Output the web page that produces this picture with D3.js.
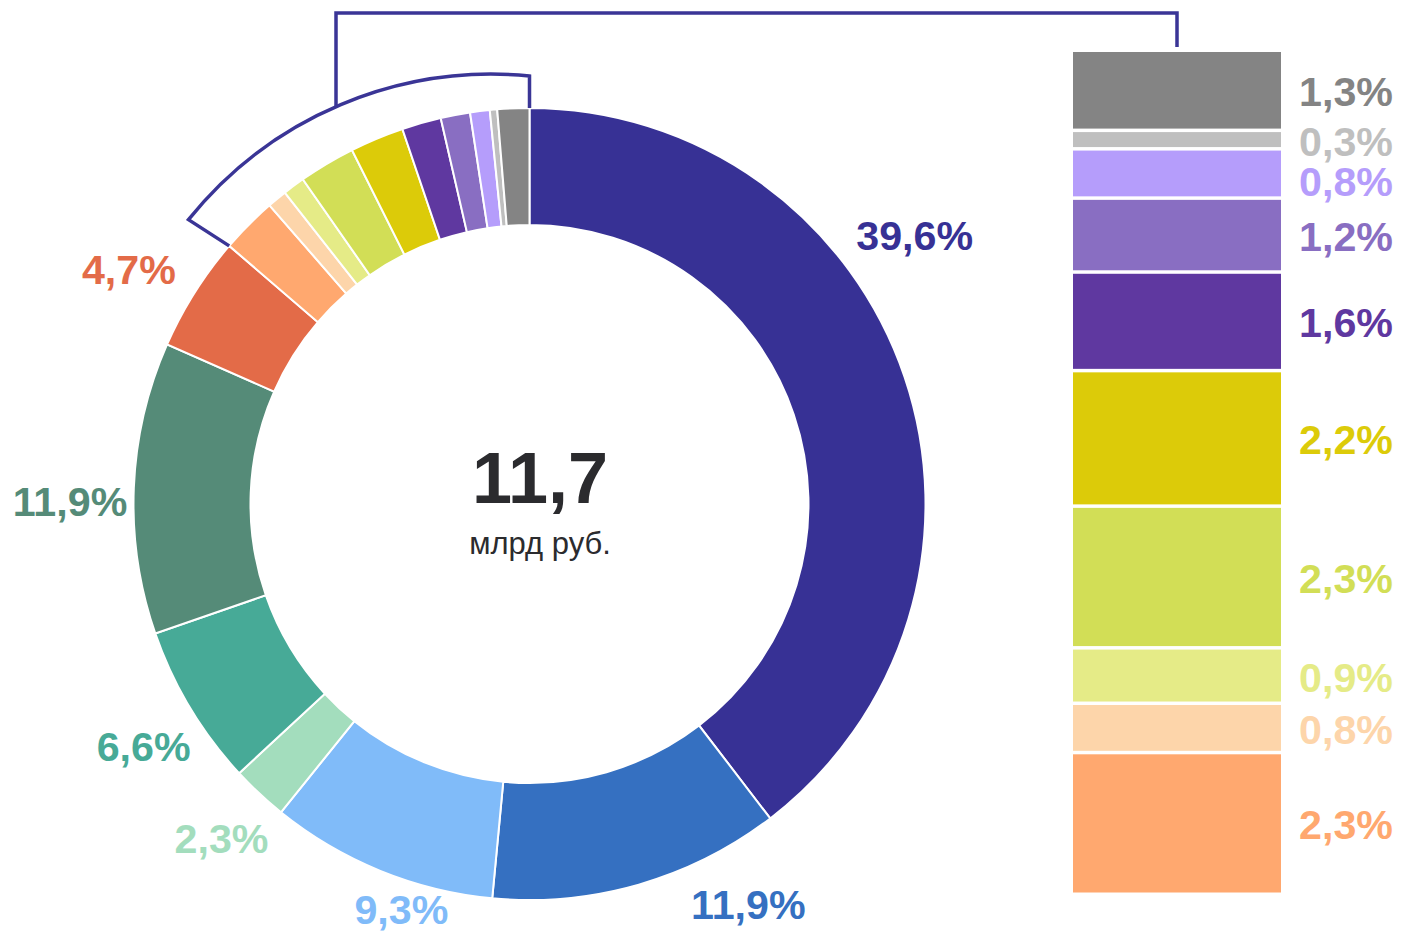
<!DOCTYPE html>
<html>
<head>
<meta charset="utf-8">
<script src="https://cdn.jsdelivr.net/npm/d3@7"></script>
<style>
  html, body { margin: 0; padding: 0; background: #ffffff; }
  svg { display: block; font-family: "Liberation Sans", Arial, sans-serif; }
  .pct { font-weight: bold; }
</style>
</head>
<body>
<div id="chart"></div>
<script>
// Доли (%) по кругу, по часовой стрелке от верха
const shares = [39.6, 11.9, 9.3, 2.3, 6.6, 11.9, 4.7, 2.3, 0.8, 0.9, 2.3, 2.2, 1.6, 1.2, 0.8, 0.3, 1.3];
const colors = ["#373195", "#3570c1", "#80bbf9", "#a3ddbd", "#47aa97", "#558b78", "#e36b48",
                "#ffa86f", "#fdd5aa", "#e5eb87", "#d2de56", "#dccb09", "#5f38a0", "#896ec2",
                "#b59dfb", "#bfbfbf", "#848484"];
const totalValue = "11,7";
const totalUnit = "млрд руб.";
// сколько первых сегментов подписаны прямо у кольца, остальные раскрыты в столбике справа
const mainCount = 7;

// Раскладка подписей у кольца: угол (град, от верха по часовой) и радиус центра текста
const labelPolar = [[55.2, 469], [151.4, 457], [197.5, 426], [222.6, 455], [237.8, 456], [270.2, 459.5], [300.3, 464]];

const width = 1405, height = 931;
const cx = 529.5, cy = 504, outerR = 396, innerR = 279;
const lineColor = "#3a3596";
const fmt = v => d3.format(".1f")(v).replace(".", ",") + "%";

const svg = d3.select("#chart")
    .append("svg")
    .attr("width", width)
    .attr("height", height);

// Кольцо
const pie = d3.pie().sort(null).value(d => d);
const arcs = pie(shares);
const arc = d3.arc().innerRadius(innerR).outerRadius(outerR);

const ring = svg.append("g").attr("transform", `translate(${cx}, ${cy})`);
ring.selectAll("path")
    .data(arcs)
    .enter()
    .append("path")
    .attr("d", arc)
    .attr("fill", (d, i) => colors[i])
    .attr("stroke", "#ffffff")
    .attr("stroke-width", 2);

// Подписи у кольца
const polar = (a, rad) => [cx + rad * Math.sin(a), cy - rad * Math.cos(a)];
const stretch = 1.03;

svg.selectAll(".ring-label")
    .data(arcs.slice(0, mainCount))
    .enter()
    .append("text")
    .attr("class", "pct ring-label")
    .attr("transform", (d, i) => {
        const p = polar(labelPolar[i][0] * Math.PI / 180, labelPolar[i][1]);
        return `translate(${p[0]}, ${p[1] + 14}) scale(${stretch}, 1)`;
    })
    .attr("text-anchor", "middle")
    .style("font-size", "40px")
    .attr("fill", (d, i) => colors[i])
    .text(d => fmt(d.data));

// Центр
svg.append("text")
    .attr("x", 540)
    .attr("y", 503)
    .attr("text-anchor", "middle")
    .style("font-size", "72px")
    .style("font-weight", "bold")
    .attr("fill", "#2b2b2e")
    .text(totalValue);

svg.append("text")
    .attr("x", 540)
    .attr("y", 554)
    .attr("text-anchor", "middle")
    .style("font-size", "31px")
    .attr("fill", "#2b2b2e")
    .text(totalUnit);

// Столбик справа: мелкие доли, сверху вниз от последнего сегмента
const small = d3.range(mainCount, shares.length).reverse()
    .map(i => ({ value: shares[i], color: colors[i] }));
let acc = 0;
small.forEach(d => { d.start = acc; acc += d.value; });

const barX = 1073, barW = 208, gap = 3.5;
const yBar = d3.scaleLinear().domain([0, acc]).range([52, 896]);

svg.selectAll(".bar")
    .data(small)
    .enter()
    .append("rect")
    .attr("class", "bar")
    .attr("x", barX)
    .attr("y", d => yBar(d.start))
    .attr("width", barW)
    .attr("height", d => yBar(d.start + d.value) - yBar(d.start) - gap)
    .attr("fill", d => d.color);

// Подписи столбика, раздвигаем если налезают
let prevBase = -Infinity;
small.forEach(d => {
    const mid = (yBar(d.start) + yBar(d.start + d.value) - gap) / 2;
    d.base = Math.max(mid + 16, prevBase + 40);
    prevBase = d.base;
});

svg.selectAll(".bar-label")
    .data(small)
    .enter()
    .append("text")
    .attr("class", "pct bar-label")
    .attr("transform", d => `translate(1346, ${d.base}) scale(${stretch}, 1)`)
    .attr("text-anchor", "middle")
    .style("font-size", "40px")
    .attr("fill", d => d.color)
    .text(d => fmt(d.value));

// Скобка вокруг мелких сегментов и выноска к столбику
const theta0 = arcs[mainCount].startAngle - 0.015;
const A = polar(theta0, outerR + 48);
const A0 = polar(arcs[mainCount].startAngle, outerR);
const B = polar(0, outerR + 32);
const B0 = polar(0, outerR);
const bracketR = 389;

const mx = (A[0] + B[0]) / 2, my = (A[1] + B[1]) / 2;
const dx = B[0] - A[0], dy = B[1] - A[1];
const len = Math.hypot(dx, dy);
const h = Math.sqrt(bracketR * bracketR - (len / 2) * (len / 2));
const ccx = mx + h * (-dy / len), ccy = my + h * (dx / len);

const connX = 336;
const connY = ccy - Math.sqrt(bracketR * bracketR - (connX - ccx) * (connX - ccx));
const barMidX = barX + barW / 2;

svg.append("path")
    .attr("d", `M${A0[0]},${A0[1]} L${A[0]},${A[1]} A${bracketR},${bracketR} 0 0 1 ${B[0]},${B[1]} L${B0[0]},${B0[1]}`)
    .attr("fill", "none")
    .attr("stroke", lineColor)
    .attr("stroke-width", 3.5);

svg.append("path")
    .attr("d", `M${connX},${connY} V13 H${barMidX} V47`)
    .attr("fill", "none")
    .attr("stroke", lineColor)
    .attr("stroke-width", 3.5);
</script>
</body>
</html>
